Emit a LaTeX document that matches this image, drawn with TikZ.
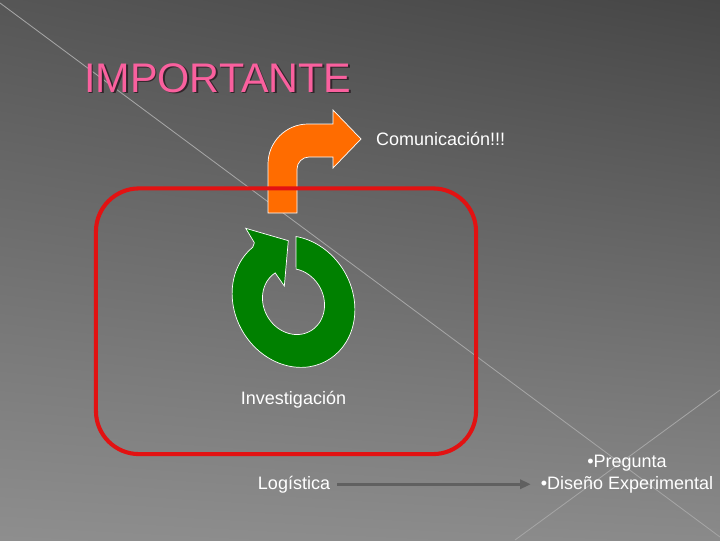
\documentclass[tikz,border=0pt]{standalone}
\usepackage{fontspec}
\setmainfont{Liberation Sans}
\usepackage{tikz}
\usetikzlibrary{arrows.meta,positioning,shadings}
\definecolor{fondoA}       {RGB}{ 86, 86, 86}
\definecolor{fondoB}       {RGB}{ 70, 70, 70}
\definecolor{fondoC}       {RGB}{142,142,142}
\definecolor{fondoD}       {RGB}{138,138,138}
\definecolor{lineafondo}   {RGB}{165,165,165}
\definecolor{rosatitulo}   {RGB}{250, 96,158}
\definecolor{sombratitulo} {RGB}{ 50, 38, 44}
\definecolor{naranjaflecha}{RGB}{255,108,  0}
\definecolor{verdeciclo}   {RGB}{  0,128,  0}
\definecolor{marcorojo}    {RGB}{226, 18, 18}
\definecolor{flechagris}   {RGB}{ 96, 96, 96}

\begin{document}
\begin{tikzpicture}[
    x=0.025cm, y=-0.025cm,
    texto/.style={text=white, font=\fontsize{12.8}{15.6}\selectfont, inner sep=2pt},
    titulo/.style={font=\fontsize{29.4}{32}\selectfont, inner sep=0pt, anchor=base west},
    marco/.style={draw=marcorojo, line width=2.9pt, rounded corners=1.075cm, minimum width=9.5cm, minimum height=6.64cm},
    linea/.style={draw=lineafondo, line width=0.6pt},
    naranja/.style={fill=naranjaflecha, draw=white, line width=0.5pt},
    verde/.style={fill=verdeciclo, draw=white, line width=0.5pt},
    flecha/.style={-{Triangle[length=7.5pt, width=6.5pt]}, draw=flechagris, line width=2.3pt, shorten <=3pt, shorten >=5pt}
]
    % Slide background
    \useasboundingbox (0,0) rectangle (720,540);
    \shade[upper left=fondoA, upper right=fondoB, lower left=fondoC, lower right=fondoD] (0,0) rectangle (720,540);
    \draw[linea] (0,3) -- (720,537);
    \draw[linea] (720,390) -- (515,540);

    % Title (with its dark shadow)
    \node[titulo, text=sombratitulo] (sombra) at (85.5,93.5) {IMPORTANTE};
    \node[titulo, text=rosatitulo] (titulo) at (84,92) {IMPORTANTE};

    % Bent arrow leaving the cycle
    \filldraw[naranja] (268,213) -- (268,164) arc[start angle=180, end angle=270, radius=40]
        -- (333,124) -- (333,110) -- (361,139) -- (333,168) -- (333,157)
        -- (309,157) arc[start angle=270, end angle=180, radius=12] -- (297,213) -- cycle;

    % Research cycle box
    \node[marco] (ciclo) at (286,321.25) {};

    % Circular arrow
    \begin{scope}[shift={(293.5,301.5)}, rotate=30]
        \filldraw[verde] (-54:59 and 68) arc[start angle=-54, end angle=262, x radius=59, y radius=68]
            -- (-4.5,-70.5) -- (-4.8,-87.3) -- (25.9,-55.3) -- (-0.2,-18)
            -- (267:30 and 34) arc[start angle=267, end angle=-52, x radius=30, y radius=34] -- cycle;
    \end{scope}

    % Labels
    \node[texto, anchor=base west] (comunic) at (373,145) {Comunicación!!!};
    \node[texto, anchor=base] (investig) at (293.5,404) {Investigación};
    \node[texto, anchor=base] (logis) at (294,489) {Logística};
    \node[texto, align=center] (lista) at (627,474.5) {•Pregunta\\•Diseño Experimental};

    % Connections
    \draw[flecha] (logis.east) -- (logis.east -| lista.west);
\end{tikzpicture}
\end{document}
